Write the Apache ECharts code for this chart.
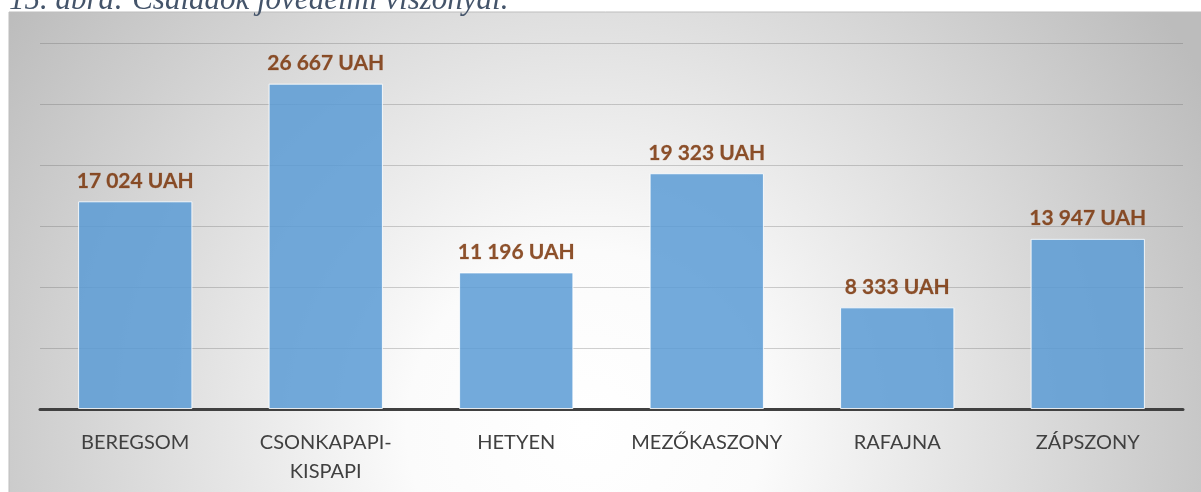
<!DOCTYPE html>
<html><head><meta charset="utf-8">
<script src="https://cdn.jsdelivr.net/npm/echarts@6/dist/echarts.min.js"></script>
<style>html,body{margin:0;padding:0;background:#fff;}#c{width:1201px;height:492px;}</style>
</head><body><div id="c"></div>
<script>
const titleText = '15. ábra: Családok jövedelmi viszonyai.';
const categories = ['BEREGSOM', 'CSONKAPAPI-\nKISPAPI', 'HETYEN', 'MEZŐKASZONY', 'RAFAJNA', 'ZÁPSZONY'];
const incomes = [17024, 26667, 11196, 19323, 8333, 13947];
const unit = 'UAH';

function fmt(v){ return String(v).replace(/\B(?=(\d{3})+(?!\d))/g, ' ') + ' ' + unit; }

const chart = echarts.init(document.getElementById('c'));
chart.setOption({
  animation: false,
  textStyle: { fontFamily: 'Lato, "Open Sans", sans-serif' },
  graphic: [
    { type: 'rect', z: -10, shape: { x: 9, y: 12, width: 1200, height: 490 },
      style: { fill: new echarts.graphic.RadialGradient(0.48, 0.85, 1.45, [
        { offset: 0, color: '#ffffff' }, { offset: 0.25, color: '#fbfbfb' }, { offset: 1, color: '#bcbcbc' }]),
        stroke: '#bdbdbd', lineWidth: 1 } },
    { type: 'text', left: 9, top: -15, z: 10,
      style: { text: titleText, fill: '#44546a', font: 'italic 31px "Liberation Serif", serif' } }
  ],
  grid: { left: 40, right: 18, top: 43, bottom: 83, containLabel: false },
  xAxis: {
    type: 'category', data: categories,
    axisLine: { show: true, lineStyle: { color: '#404040', width: 3 } },
    axisTick: { show: false },
    axisLabel: { color: '#404040', fontSize: 20, margin: 19, lineHeight: 29, interval: 0 }
  },
  yAxis: {
    type: 'value', min: 0, max: 30000, interval: 5000,
    axisLine: { show: false }, axisTick: { show: false }, axisLabel: { show: false },
    splitLine: { lineStyle: { color: 'rgba(90,90,90,0.28)', width: 1 } }
  },
  series: [{
    type: 'bar', data: incomes, barCategoryGap: '40%',
    itemStyle: { color: '#5b9bd5', opacity: 0.85, borderColor: '#ffffff', borderWidth: 1 },
    label: { show: true, position: 'top', distance: 10, color: '#7a3408', fontWeight: 'bold', fontSize: 21,
      textBorderColor: 'rgba(122,52,8,0.5)', textBorderWidth: 0.4,
      formatter: p => fmt(p.value) }
  }]
});
</script></body></html>
